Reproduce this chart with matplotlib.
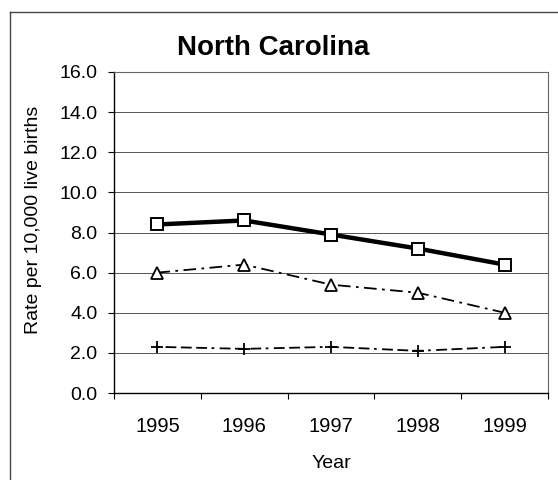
import numpy as np
import matplotlib.pyplot as plt
from matplotlib.lines import Line2D

# data
years = ['1995', '1996', '1997', '1998', '1999']
rate_square = [8.4, 8.6, 7.9, 7.2, 6.4]
rate_triangle = [6.0, 6.4, 5.4, 5.0, 4.0]
rate_plus = [2.3, 2.2, 2.3, 2.1, 2.3]
yticks = np.arange(0, 16.1, 2.0)

plt.rcParams['font.family'] = ['Liberation Sans', 'DejaVu Sans']

fig = plt.figure(figsize=(5.58, 4.80), dpi=100)
ax = fig.add_axes([0.2043, 0.18125, 0.7778, 0.66875])

x = np.arange(len(years))

ax.plot(x, rate_square, color='black', lw=3.2, marker='s', ms=8.5,
        mfc='white', mec='black', mew=1.4, zorder=4)
ax.plot(x, rate_triangle, color='black', lw=1.3, dashes=(7, 3, 1.5, 3),
        marker='^', ms=8.5, mfc='white', mec='black', mew=1.3, zorder=3)
ax.plot(x, rate_plus, color='black', lw=1.3, dashes=(1.5, 3, 6, 2.5, 6, 2.5, 6, 2.5),
        marker='+', ms=9, mec='black', mew=1.3, zorder=3)

ax.set_xlim(-0.5, len(years) - 0.5)
ax.set_ylim(0, 16)
ax.set_yticks(yticks)
ax.set_yticklabels([f'{v:.1f}' for v in yticks], fontsize=14)
ax.set_xticks(x)
ax.set_xticklabels(years, fontsize=14.5)
ax.set_xticks(np.arange(-0.5, len(years), 1.0), minor=True)
ax.tick_params(axis='x', which='major', length=0, pad=17)
ax.tick_params(axis='x', which='minor', length=4, width=0.8, direction='out')
ax.tick_params(axis='y', length=4, width=0.8, direction='out', pad=8)

ax.yaxis.grid(True, color='#555555', lw=0.7)
ax.set_axisbelow(True)
for side in ['top', 'right']:
    ax.spines[side].set_color('#666666')
    ax.spines[side].set_linewidth(0.8)
for side in ['left', 'bottom']:
    ax.spines[side].set_color('black')
    ax.spines[side].set_linewidth(1.0)

ax.set_xlabel('Year', fontsize=14, labelpad=14)
ax.set_ylabel('Rate per 10,000 live births', fontsize=14)
ax.yaxis.set_label_coords(-0.166, 0.539)
fig.text(0.489, 0.899, 'North Carolina', fontsize=20, fontweight='bold',
         ha='center', va='center')

# outer frame of the chart (only top and left edges inside the image)
fig.add_artist(Line2D([0.018, 0.018], [0.0, 0.975], color='#444444', lw=1.0))
fig.add_artist(Line2D([0.018, 1.0], [0.975, 0.975], color='#444444', lw=1.0))

fig.savefig('out.png', dpi=100)
